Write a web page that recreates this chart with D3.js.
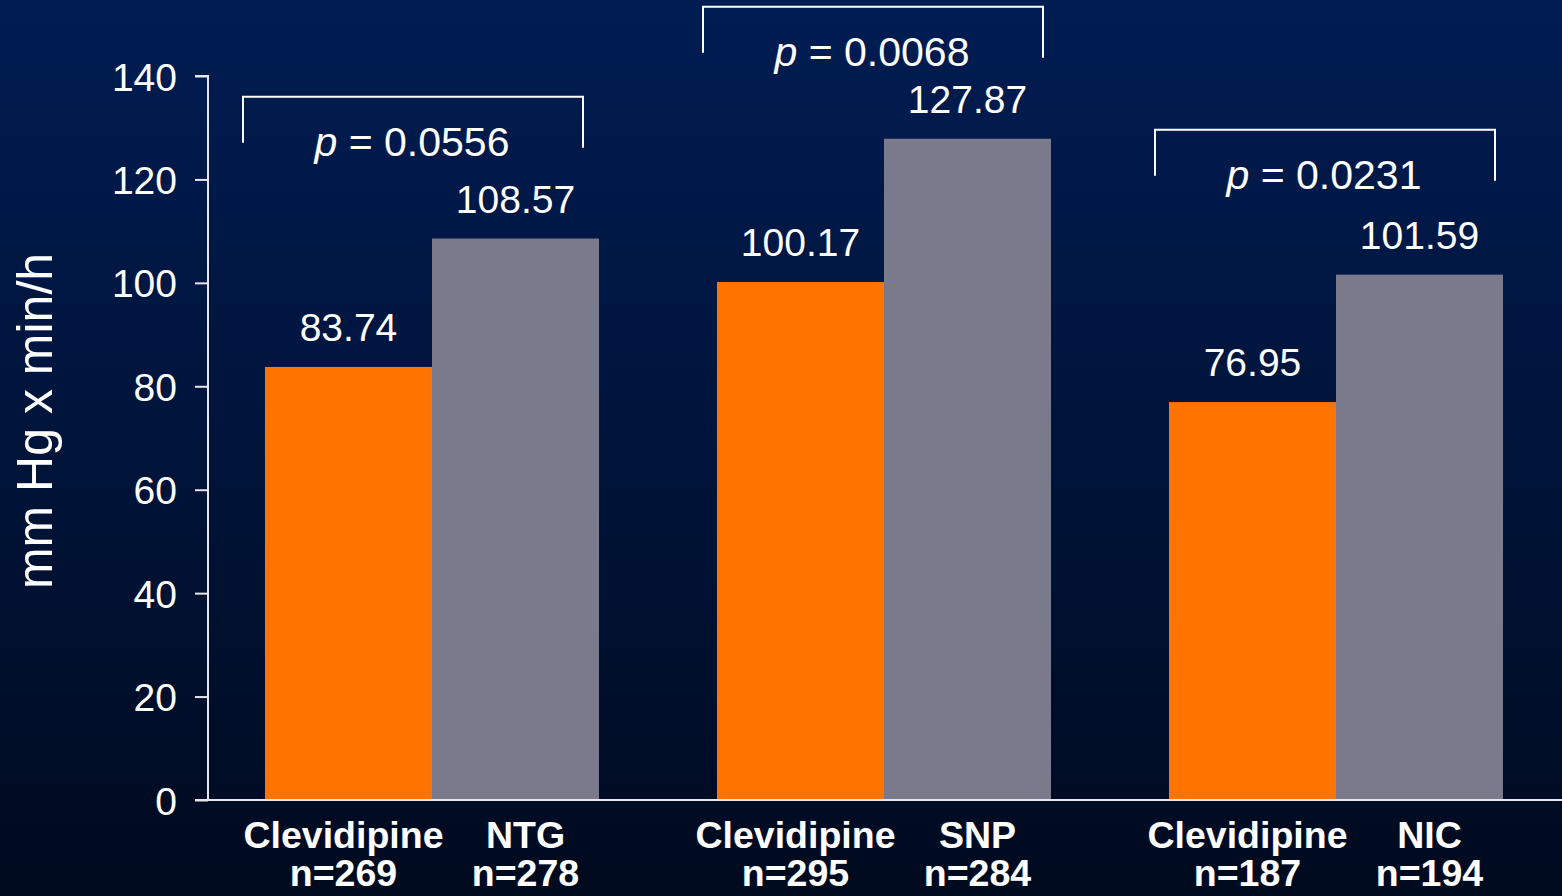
<!DOCTYPE html>
<html>
<head>
<meta charset="utf-8">
<script src="https://cdn.jsdelivr.net/npm/d3@7"></script>
<style>
  html, body { margin: 0; padding: 0; background: #000a1e; }
  svg { display: block; }
  text { font-family: "Liberation Sans", Arial, sans-serif; fill: #ffffff; }
</style>
</head>
<body>
<script>
// Area under the curve for three comparisons (Clevidipine vs comparator)
const groups = ["ECLIPSE-NTG", "ECLIPSE-SNP", "ECLIPSE-NIC"];
const clevidipineValues = [83.74, 100.17, 76.95];
const comparatorValues = [108.57, 127.87, 101.59];
const clevidipineN = ["n=269", "n=295", "n=187"];
const comparatorNames = ["NTG", "SNP", "NIC"];
const comparatorN = ["n=278", "n=284", "n=194"];
const pValues = ["0.0556", "0.0068", "0.0231"];
const bracketLevels = [136, 153.4, 129.6];
const yTicks = [0, 20, 40, 60, 80, 100, 120, 140];
const yTitle = "mm Hg x min/h";

const W = 1562, H = 896;
const svg = d3.select("body").append("svg").attr("width", W).attr("height", H);

const defs = svg.append("defs");
const grad = defs.append("linearGradient").attr("id", "bg").attr("x1", 0).attr("y1", 0).attr("x2", 0).attr("y2", 1);
grad.append("stop").attr("offset", "0%").attr("stop-color", "#001c52");
grad.append("stop").attr("offset", "50%").attr("stop-color", "#00143a");
grad.append("stop").attr("offset", "100%").attr("stop-color", "#000a1e");
svg.append("rect").attr("width", W).attr("height", H).attr("fill", "url(#bg)");

const y = d3.scaleLinear().domain([0, 140]).range([800, 76]);
const x0 = d3.scaleBand().domain(groups).range([206, 1562]).paddingInner(0.261).paddingOuter(0.1305);
const x1 = d3.scaleBand().domain(["clev", "comp"]).range([0, x0.bandwidth()]);
const half = x0.bandwidth() / 2;
// brackets drift slightly right in the later groups
const bracketShift = i => (i === 0 ? 0 : 8);

const rows = groups.map((g, i) => ({
  group: g,
  index: i,
  bars: [
    { key: "clev", value: clevidipineValues[i], name: "Clevidipine", n: clevidipineN[i], color: "#ff7300", dx: -5 },
    { key: "comp", value: comparatorValues[i], name: comparatorNames[i], n: comparatorN[i], color: "#7b7a8c", dx: 10 }
  ],
  p: pValues[i],
  level: bracketLevels[i]
}));

// y axis
const yAxis = svg.append("g").attr("transform", "translate(208,0)")
  .call(d3.axisLeft(y).tickValues(yTicks).tickSize(13).tickPadding(18));
yAxis.select(".domain").attr("stroke", "#e6e6ee").attr("stroke-width", 2).attr("d", `M-13,${y(140)}H0V${y(0)}`);
yAxis.selectAll(".tick line").attr("stroke", "#e6e6ee").attr("stroke-width", 2);
yAxis.selectAll(".tick text").attr("fill", "#ffffff").attr("font-size", 39)
  .attr("font-family", "'Liberation Sans', Arial, sans-serif").attr("dy", "0.36em");

svg.append("text")
  .attr("transform", `translate(52,${421}) rotate(-90)`)
  .attr("text-anchor", "middle")
  .attr("font-size", 50)
  .text(yTitle);

// bars
const g = svg.selectAll(".grp").data(rows).join("g")
  .attr("class", "grp")
  .attr("transform", d => `translate(${x0(d.group)},0)`);

g.selectAll("rect").data(d => d.bars).join("rect")
  .attr("x", d => x1(d.key))
  .attr("width", x1.bandwidth())
  .attr("y", d => y(d.value))
  .attr("height", d => y(0) - y(d.value))
  .attr("fill", d => d.color);

g.selectAll(".val").data(d => d.bars).join("text")
  .attr("class", "val")
  .attr("x", d => x1(d.key) + x1.bandwidth() / 2)
  .attr("y", d => y(d.value) - 26)
  .attr("text-anchor", "middle")
  .attr("font-size", 39)
  .text(d => d.value.toFixed(2));

const cat = g.selectAll(".cat").data(d => d.bars).join("text")
  .attr("class", "cat")
  .attr("text-anchor", "middle")
  .attr("font-size", 37.5)
  .attr("font-weight", "bold");
cat.append("tspan")
  .attr("x", d => x1(d.key) + x1.bandwidth() / 2 + d.dx)
  .attr("y", 848)
  .text(d => d.name);
cat.append("tspan")
  .attr("x", d => x1(d.key) + x1.bandwidth() / 2 + d.dx)
  .attr("y", 886)
  .text(d => d.n);

// x axis baseline
svg.append("line")
  .attr("x1", 195).attr("x2", W).attr("y1", y(0)).attr("y2", y(0))
  .attr("stroke", "#e6e6ee").attr("stroke-width", 2);

// significance brackets
g.append("path")
  .attr("fill", "none")
  .attr("stroke", "#ffffff")
  .attr("stroke-width", 2)
  .attr("d", d => {
    const top = y(d.level);
    const s = bracketShift(d.index);
    return `M${half - 189 + s},${top + 46}V${top}H${half + 151 + s}V${top + 51}`;
  });

const pt = g.append("text")
  .attr("x", d => half - 20 + bracketShift(d.index))
  .attr("y", d => y(d.level) + 59)
  .attr("text-anchor", "middle")
  .attr("font-size", 41);
pt.append("tspan").attr("font-style", "italic").text("p");
pt.append("tspan").text(d => " = " + d.p);
</script>
</body>
</html>
